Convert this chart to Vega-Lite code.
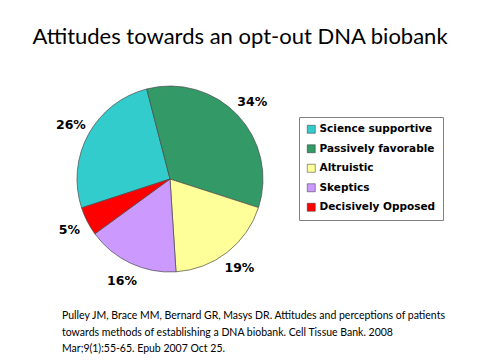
{
  "$schema": "https://vega.github.io/schema/vega-lite/v6.json",
  "background": "white",
  "padding": {"left": 0, "top": 26, "right": 0, "bottom": 0},
  "config": {"view": {"stroke": null}, "concat": {"spacing": 0}},
  "title": {
    "text": "Attitudes towards an opt-out DNA biobank",
    "font": "Lato",
    "fontSize": 22,
    "fontWeight": "normal",
    "color": "#000000",
    "anchor": "middle",
    "frame": "group",
    "dx": 70,
    "offset": 20
  },
  "vconcat": [
    {
      "width": 340,
      "height": 220,
      "title": {
        "text": [
          "Pulley JM, Brace MM, Bernard GR, Masys DR. Attitudes and perceptions of patients",
          "towards methods of establishing a DNA biobank. Cell Tissue Bank. 2008",
          "Mar;9(1):55-65. Epub 2007 Oct 25."
        ],
        "orient": "bottom",
        "anchor": "start",
        "frame": "group",
        "dx": 62,
        "offset": 22,
        "font": "Lato",
        "fontSize": 10.5,
        "fontWeight": "normal",
        "color": "#000000",
        "lineHeight": 16.5
      },
      "data": {
        "values": [
          {"attitude": "Science supportive", "share": 0.26, "seq": 5},
          {"attitude": "Passively favorable", "share": 0.34, "seq": 1},
          {"attitude": "Altruistic", "share": 0.19, "seq": 2},
          {"attitude": "Skeptics", "share": 0.16, "seq": 3},
          {"attitude": "Decisively Opposed", "share": 0.05, "seq": 4}
        ]
      },
      "encoding": {
        "theta": {"field": "share", "type": "quantitative", "stack": true, "scale": {"range": [-0.2531, 6.0301]}},
        "order": {"field": "seq", "type": "quantitative"}
      },
      "layer": [
        {
          "mark": {"type": "arc", "radius": 93, "stroke": "#4a4a4a", "strokeWidth": 0.7},
          "encoding": {
            "color": {
              "field": "attitude",
              "type": "nominal",
              "sort": null,
              "scale": {
                "domain": ["Science supportive", "Passively favorable", "Altruistic", "Skeptics", "Decisively Opposed"],
                "range": ["#33CCCC", "#339966", "#FFFF99", "#CC99FF", "#FF0000"]
              },
              "legend": {
                "orient": "none",
                "legendX": 299,
                "legendY": 48,
                "title": null,
                "symbolType": "square",
                "symbolSize": 64,
                "symbolStrokeColor": "#333333",
                "symbolStrokeWidth": 0.5,
                "symbolOpacity": 1,
                "labelFont": "DejaVu Sans",
                "labelFontWeight": "bold",
                "labelFontSize": 10.5,
                "labelColor": "#000000",
                "labelOffset": 3,
                "labelLimit": 300,
                "rowPadding": 8.5,
                "padding": 7,
                "strokeColor": "#808080"
              }
            }
          }
        },
        {
          "mark": {"type": "text", "radius": 113, "font": "DejaVu Sans", "fontWeight": "bold", "fontSize": 12.5, "color": "#000000", "align": "center", "baseline": "middle"},
          "encoding": {
            "text": {"field": "share", "type": "quantitative", "format": ".0%"}
          }
        }
      ]
    }
  ]
}
